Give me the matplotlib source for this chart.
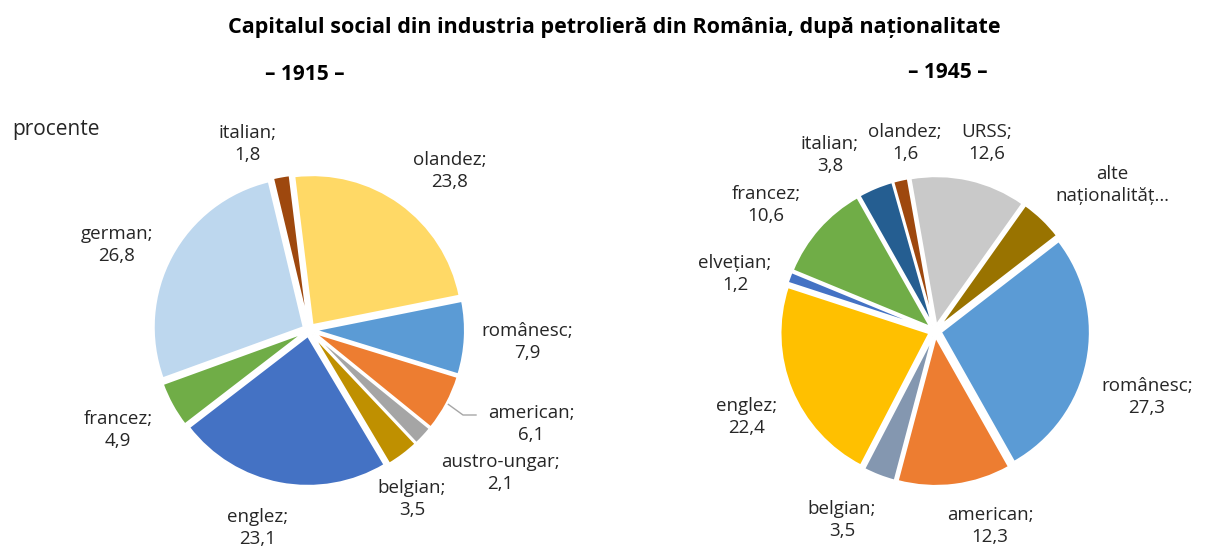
import numpy as np
import matplotlib
matplotlib.use("Agg")
import matplotlib.pyplot as plt

plt.rcParams['font.family'] = ['Open Sans', 'DejaVu Sans']

# data
title = "Capitalul social din industria petrolieră din România, după naționalitate"

names_1915 = ["olandez", "românesc", "american", "austro-ungar", "belgian",
              "englez", "francez", "german", "italian"]
vals_1915 = [23.8, 7.9, 6.1, 2.1, 3.5, 23.1, 4.9, 26.8, 1.8]
colors_1915 = ["#FFD966", "#5B9BD5", "#ED7D31", "#A5A5A5", "#BF9000",
               "#4472C4", "#70AD47", "#BDD7EE", "#9E480E"]

names_1945 = ["URSS", "alte naționalități", "românesc", "american", "belgian",
              "englez", "elvețian", "francez", "italian", "olandez"]
vals_1945 = [12.6, 4.7, 27.3, 12.3, 3.5, 22.4, 1.2, 10.6, 3.8, 1.6]
colors_1945 = ["#C9C9C9", "#997300", "#5B9BD5", "#ED7D31", "#8497B0",
               "#FFC000", "#4472C4", "#70AD47", "#255E91", "#9E480E"]

# label centres (pixels from top-left)
lbl_1915 = [(450, 171), (527, 342), (531, 424), (500, 473), (412, 499),
            (258, 528), (118, 430), (117, 245), (247, 144)]
lbl_1945 = [(987, 143), (1112, 185), (1147, 397), (990, 526), (842, 520),
            (747, 417), (735, 274), (766, 205), (830, 155), (905, 143)]

W, H = 1205, 550
fig = plt.figure(figsize=(W / 100, H / 100), dpi=100)
ax = fig.add_axes([0, 0, 1, 1])


def fmt(v):
    return f"{v:.1f}".replace(".", ",")


def draw_pie(vals, colors, names, labels, center, radius, start):
    cx, cy = center
    ax.pie(vals, colors=colors, startangle=start, counterclock=False,
           center=(cx, H - cy), radius=radius, explode=[6] * len(vals),
           wedgeprops=dict(edgecolor='white', linewidth=1.5), frame=True)
    for name, v, (lx, ly) in zip(names, vals, labels):
        if name == "alte naționalități":
            txt = "alte\nnaționalităț…"
        else:
            txt = f"{name};\n{fmt(v)}"
        ax.text(lx, H - ly, txt, ha='center', va='center', fontsize=13.5,
                color='#262626', linespacing=1.35)


draw_pie(vals_1915, colors_1915, names_1915, lbl_1915, (309, 330), 150, 97)
draw_pie(vals_1945, colors_1945, names_1945, lbl_1945, (935, 331), 149, 100)

ax.set_xlim(0, W)
ax.set_ylim(0, H)
ax.set_aspect('equal')
ax.axis('off')

# leader line for "american" (1915)
start_a = 97 - (23.8 + 7.9) * 3.6
mid = np.deg2rad(start_a - 6.1 * 3.6 / 2)
x0 = 309 + 158 * np.cos(mid)
y0 = (H - 330) + 158 * np.sin(mid)
ax.plot([x0, 463, 476], [y0, H - 415, H - 415], color='#A6A6A6', lw=1)

ax.text(614, H - 28, title, ha='center', va='center', fontsize=15.5,
        fontweight='bold', color='black')
ax.text(305, H - 75, "– 1915 –", ha='center', va='center', fontsize=15,
        fontweight='bold')
ax.text(948, H - 72, "– 1945 –", ha='center', va='center', fontsize=15,
        fontweight='bold')
ax.text(12, H - 130, "procente", ha='left', va='center', fontsize=15,
        color='#262626')

fig.savefig("out.png", dpi=100)
